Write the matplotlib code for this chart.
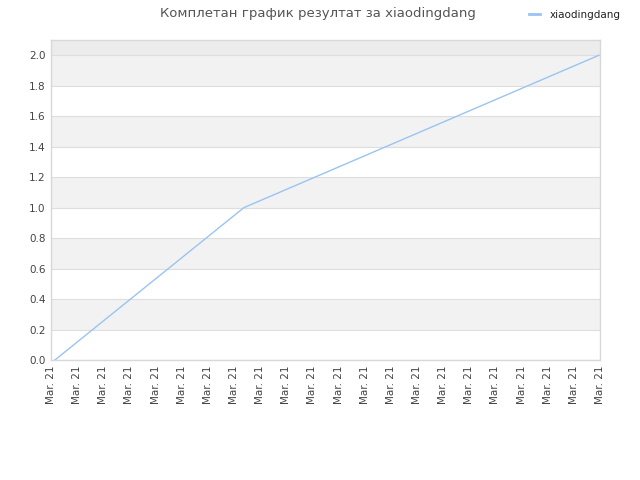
import matplotlib
matplotlib.use("Agg")
import matplotlib.pyplot as plt
import numpy as np

title = "Комплетан график резултат за xiaodingdang"
series_name = "xiaodingdang"
x_positions = [0.15, 7.38, 20.96]
values = [0.0, 1.0, 2.0]
tick_labels = ["Mar. 21"] * 22
y_ticks = [0.0, 0.2, 0.4, 0.6, 0.8, 1.0, 1.2, 1.4, 1.6, 1.8, 2.0]

plt.rcParams['font.family'] = ['DejaVu Sans']
fig = plt.figure(figsize=(6.4, 4.8), dpi=100)
ax = fig.add_axes([51/640, 120/480, 549/640, 320/480])

ymax = 2.1
ax.set_xlim(0, len(tick_labels) - 1)
ax.set_ylim(0, ymax)

# alternating bands
for i in range(len(y_ticks) - 1):
    if i % 2 == 1:
        ax.axhspan(y_ticks[i], y_ticks[i + 1], color='#f2f2f2', zorder=0, lw=0)
ax.axhspan(y_ticks[-1], ymax, color='#ececec', zorder=0, lw=0)
for y in y_ticks:
    ax.axhline(y, color='#dedede', lw=0.8, zorder=1)

ax.plot(x_positions, values, color='#99c4f2', lw=1.0, zorder=3, label=series_name)

ax.set_xticks(range(len(tick_labels)))
ax.set_xticklabels(tick_labels, rotation=90, fontsize=7.5, color='#444444')
ax.set_yticks(y_ticks)
ax.set_yticklabels([f"{v:.1f}" for v in y_ticks], fontsize=7.5, color='#444444')
ax.tick_params(length=0, pad=4)
for s in ax.spines.values():
    s.set_color('#d8d8d8')
    s.set_linewidth(1.0)

fig.text(318/640, 1 - 13/480, title, ha='center', va='center', fontsize=9.5, color='#555555')
leg = fig.legend(loc='center', bbox_to_anchor=(575/640, 1 - 15/480), frameon=False,
                 fontsize=7.5, handlelength=1.0, handletextpad=0.95)
for t in leg.get_texts():
    t.set_color('#222222')
for h in leg.legend_handles:
    h.set_linewidth(2.0)

fig.savefig("out.png", dpi=100)
